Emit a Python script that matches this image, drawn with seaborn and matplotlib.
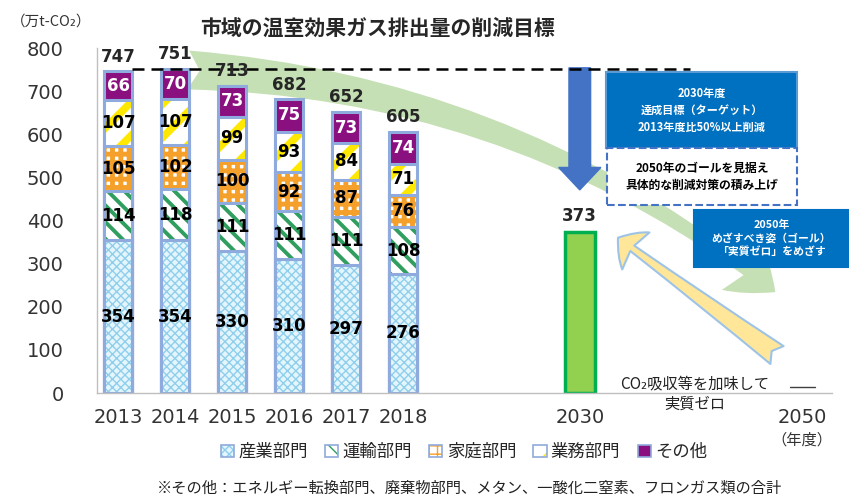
"""Emission reduction targets: stacked sector bars 2013-2018 plus 2030 target."""

import numpy as np
import seaborn as sns
import matplotlib.pyplot as plt
from matplotlib.patches import Patch, Rectangle, FancyArrowPatch
from matplotlib.transforms import offset_copy


YEARS = ["2013", "2014", "2015", "2016", "2017", "2018"]
SECTORS = ["産業部門", "運輸部門", "家庭部門", "業務部門", "その他"]
INDUSTRY = [354, 354, 330, 310, 297, 276]
TRANSPORT = [114, 118, 111, 111, 111, 108]
HOUSEHOLD = [105, 102, 100, 92, 87, 76]
BUSINESS = [107, 107, 99, 93, 84, 71]
OTHER = [66, 70, 73, 75, 73, 74]
TOTALS = [747, 751, 713, 682, 652, 605]
TARGET_YEAR = "2030"
TARGET = 373
GOAL_YEAR = "2050"
GOAL = 0

# layout
YEAR_POS = [0, 1, 2, 3, 4, 5]
TARGET_POS = 8.1
GOAL_POS = 12.0
BAR_W = 0.5

JP = ["Noto Sans CJK JP", "DejaVu Sans"]
BORDER = "#8faadc"
STYLE = {
    "産業部門": dict(face="#e4f5fc", hatch="xxxx", hc="#8fcfec", hlw=1.0),
    "運輸部門": dict(face="white", hatch="\\\\", hc="#2f9e5e", hlw=2.8),
    "家庭部門": dict(face="white", hatch="++", hc="#f5a02a", hlw=3.5),
    "業務部門": dict(face="white", hatch="/", hc="#ffe800", hlw=5.5),
    "その他": dict(face="#8a0f7f", hatch=None, hc="#8a0f7f", hlw=1.0),
}


def px_to_fig(x0, y0, x1, y1):
    W, H = 849, 498
    return x0 / W, 1 - y1 / H, (x1 - x0) / W, (y1 - y0) / H


def main():
    sns.set_style("white")
    plt.rcParams["font.family"] = JP

    fig = plt.figure(figsize=(8.49, 4.98), dpi=100)
    ax = fig.add_axes([97 / 849, 1 - 393 / 498, (832 - 97) / 849, (393 - 48) / 498])

    layers = [INDUSTRY, TRANSPORT, HOUSEHOLD, BUSINESS, OTHER]
    cum = np.cumsum(layers, axis=0)

    # stacked bars drawn as overlapping cumulative bars, top layer first;
    # hatch width is picked up from rcParams when each patch is made
    for k in reversed(range(len(layers))):
        st = STYLE[SECTORS[k]]
        plt.rcParams["hatch.linewidth"] = st["hlw"]
        sns.barplot(x=YEAR_POS, y=cum[k], orient="x", native_scale=True,
                    width=BAR_W, color=st["face"], saturation=1,
                    hatch=st["hatch"], edgecolor=st["hc"], linewidth=0,
                    errorbar=None, ax=ax, zorder=2)
        sns.barplot(x=YEAR_POS, y=cum[k], orient="x", native_scale=True,
                    width=BAR_W, color=BORDER, fill=False, linewidth=2.2,
                    errorbar=None, ax=ax, zorder=2)
    plt.rcParams["hatch.linewidth"] = 1.0

    for k, vals in enumerate(layers):
        col = "white" if SECTORS[k] == "その他" else "black"
        for i, v in enumerate(vals):
            ax.text(YEAR_POS[i], cum[k][i] - v / 2, str(v), ha="center",
                    va="center", fontsize=12, fontweight="bold", color=col,
                    family="DejaVu Sans", zorder=6)

    for i, t in enumerate(TOTALS):
        ax.annotate(str(t), (YEAR_POS[i], cum[-1][i]), xytext=(0, 7),
                    textcoords="offset points", ha="center", va="baseline",
                    fontsize=12, fontweight="bold", family="DejaVu Sans",
                    annotation_clip=False, zorder=6)

    # 2030 target bar
    sns.barplot(x=[TARGET_POS], y=[TARGET], orient="x", native_scale=True,
                width=0.52, color="#92d050", saturation=1, edgecolor="#00b050",
                linewidth=2.5, errorbar=None, ax=ax, zorder=2)
    ax.annotate(str(TARGET), (TARGET_POS, TARGET), xytext=(0, 8),
                textcoords="offset points", ha="center", va="baseline",
                fontsize=12, fontweight="bold", family="DejaVu Sans", zorder=6)

    # 2050 "zero" dash
    ax.plot([GOAL_POS - 0.22, GOAL_POS + 0.22], [GOAL, GOAL], color="#404040",
            lw=1, transform=offset_copy(ax.transData, fig, y=4.5, units="points"),
            clip_on=False)

    # reference dashed line at the peak
    ax.hlines(max(TOTALS), 0.25, 10.03, colors="black", lw=1.8,
              linestyles=(0, (4.8, 2.8)), zorder=5)

    # decreasing trend band
    ax.add_patch(FancyArrowPatch(
        (1.23, 749), (11.53, 234), connectionstyle="arc3,rad=-0.16",
        arrowstyle="fancy,head_length=1.6,head_width=2.2,tail_width=1.4",
        mutation_scale=20, fc="#c5e0b4", ec="none", zorder=0.5,
        shrinkA=0, shrinkB=0, clip_on=False))

    # target arrow
    ax.arrow(TARGET_POS, 754, 0, -283, width=0.38, head_width=0.74,
             head_length=52, length_includes_head=True, color="#4472c4",
             zorder=4)

    # offset arrow (absorption)
    ax.add_patch(FancyArrowPatch(
        (11.56, 88), (8.77, 360),
        arrowstyle="fancy,head_length=0.8,head_width=1.65,tail_width=0.8",
        mutation_scale=20, fc="#ffe699", ec="#9dc3e6", lw=1.5, zorder=3,
        shrinkA=0, shrinkB=0, clip_on=False))

    ax.set_xlim(-0.37, 12.525)
    ax.set_ylim(0, 800)
    ax.set_yticks(range(0, 801, 100))
    ax.set_xticks(YEAR_POS + [TARGET_POS, GOAL_POS], YEARS + [TARGET_YEAR, GOAL_YEAR])
    ax.tick_params(axis="y", length=0, pad=24, labelsize=14, labelcolor="#333333")
    ax.tick_params(axis="x", length=0, pad=11, labelsize=14, labelcolor="#333333")
    for lab in ax.get_xticklabels() + ax.get_yticklabels():
        lab.set_family("DejaVu Sans")
    for s in ["top", "right"]:
        ax.spines[s].set_visible(False)
    for s in ["left", "bottom"]:
        ax.spines[s].set_color("#bfbfbf")
        ax.spines[s].set_linewidth(1)
    ax.set_xlabel("")
    ax.set_ylabel("")

    ax.annotate("CO₂吸収等を加味して\n実質ゼロ", xy=(10.12, 0), xytext=(0, -1),
                textcoords="offset points", ha="center", va="center",
                fontsize=11, linespacing=1.25, color="#222222",
                annotation_clip=False)
    ax.annotate("（年度）", xy=(GOAL_POS, 0), xytext=(0, -34),
                textcoords="offset points", ha="center", va="center",
                fontsize=11, color="#333333", annotation_clip=False)

    # annotation boxes
    boxes = [
        ((606, 72, 797, 148), "#0070c0", "#5b9bd5", "-", "white",
         "2030年度\n達成目標（ターゲット）\n2013年度比50%以上削減", 8, 1.4),
        ((607, 148, 797, 205), "white", "#4472c4", "--", "black",
         "2050年のゴールを見据え\n具体的な削減対策の積み上げ", 8.5, 1.4),
        ((694, 210, 849, 267), "#0070c0", "#0070c0", "-", "white",
         "2050年\nめざすべき姿（ゴール）\n「実質ゼロ」をめざす", 7.8, 1.35),
    ]
    for (x0, y0, x1, y1), fc, ec, ls, tc, txt, fs, lsp in boxes:
        l, b, w, h = px_to_fig(x0, y0, x1, y1)
        fig.patches.append(Rectangle((l, b), w, h, transform=fig.transFigure,
                                     fc=fc, ec=ec, ls=ls, lw=1.5, zorder=7))
        fig.text(l + w / 2, b + h / 2, txt, ha="center", va="center",
                 fontsize=fs, fontweight="bold", color=tc, linespacing=lsp,
                 zorder=8)

    fig.text(378 / 849, 1 - 28 / 498, "市域の温室効果ガス排出量の削減目標",
             ha="center", va="center", fontsize=15, fontweight="bold")
    fig.text(51 / 849, 1 - 22 / 498, "（万t-CO₂）", ha="center", va="center",
             fontsize=10.5, color="#333333")

    handles = []
    for name in SECTORS:
        st = STYLE[name]
        plt.rcParams["hatch.linewidth"] = min(st["hlw"], 2.0)
        handles.append((Patch(fc=st["face"], hatch=st["hatch"], ec=st["hc"], lw=0),
                        Patch(fc="none", ec=BORDER, lw=1.2)))
    fig.legend(handles, SECTORS, loc="center", bbox_to_anchor=(464 / 849, 1 - 452 / 498),
               ncol=5, frameon=False, fontsize=12.5, handlelength=0.75,
               handleheight=0.75, handletextpad=0.25, columnspacing=1.0)
    plt.rcParams["hatch.linewidth"] = 1.0

    fig.text(469 / 849, 1 - 488 / 498,
             "※その他：エネルギー転換部門、廃棄物部門、メタン、一酸化二窒素、フロンガス類の合計",
             ha="center", va="center", fontsize=11, color="#222222")

    fig.savefig("out.png", dpi=100)
    plt.close(fig)


if __name__ == "__main__":
    main()
